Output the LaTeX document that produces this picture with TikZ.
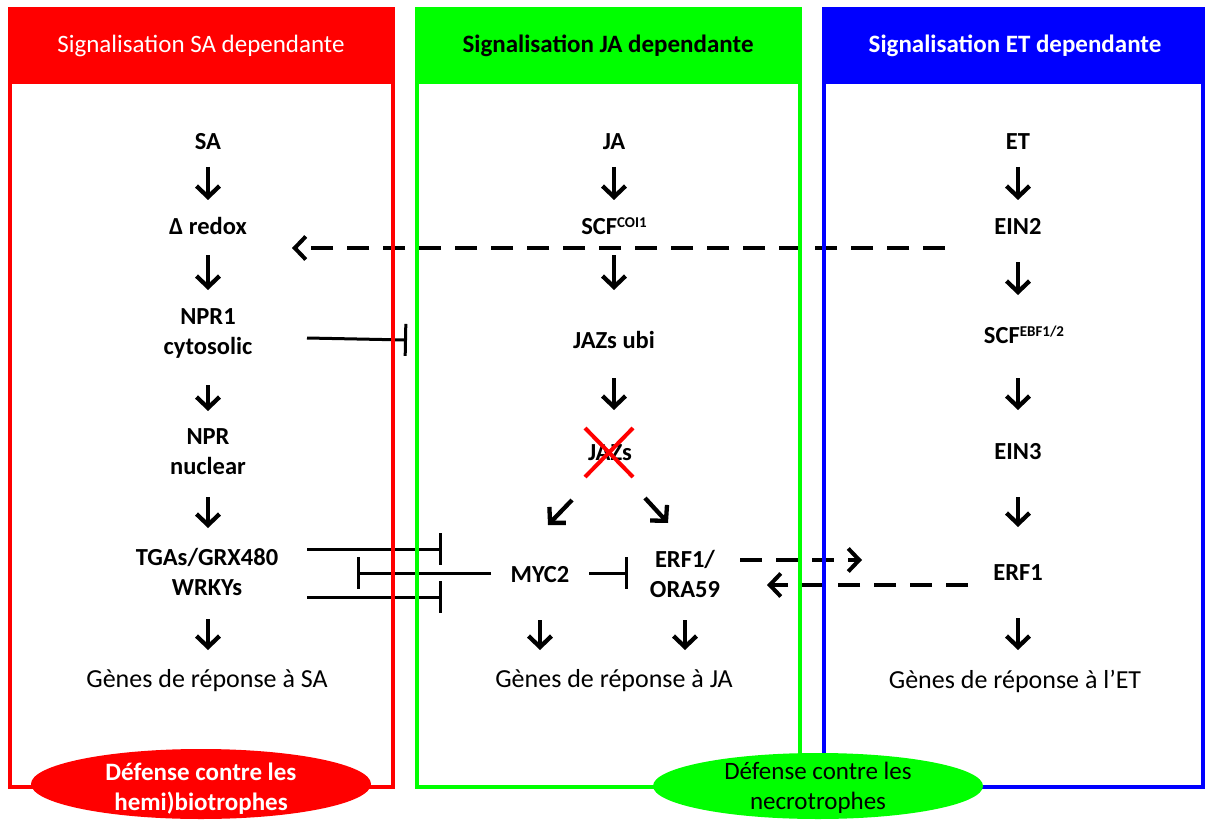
\documentclass[tikz,border=0pt]{standalone}
\usepackage{fontspec}
\setmainfont{Carlito}
\usetikzlibrary{arrows.meta,shapes.geometric}
\definecolor{rd}{RGB}{255,0,0}
\definecolor{gr}{RGB}{0,255,0}
\definecolor{bl}{RGB}{0,0,255}
\newcommand{\sps}[1]{\raisebox{6.5pt}{\fontsize{15}{15}\selectfont #1}}
\begin{document}
\begin{tikzpicture}[x=1pt,y=-1pt,
 txt/.style={font=\fontsize{24.5}{30}\selectfont\bfseries, align=center, inner sep=0pt},
 gtxt/.style={font=\fontsize{26}{30}\selectfont, align=center, inner sep=0pt},
 hdr/.style={font=\fontsize{25}{30}\selectfont, inner sep=0pt},
 down/.style={line width=4.3pt,-{Straight Barb[length=11pt,width=23pt]}},
 dsh/.style={line width=4pt, dash pattern=on 22pt off 14pt, -{Straight Barb[length=11pt,width=23pt]}},
 inh/.style={line width=3pt,-{Bar[width=32pt,line width=3pt]}},
 box/.style={line width=4pt},
]
\useasboundingbox (0,0) rectangle (1207,821);
% ---- SA column
\node[txt] (sa) at (208,142) {SA};
\node[txt] (redox) at (208,226) {Δ redox};
\node[txt] (npr1) at (208,333) {NPR1\\cytosolic};
\node[txt] (npr) at (208,452) {NPR\\nuclear};
\node[txt] (tgas) at (207,572) {TGAs/GRX480\\WRKYs};
\node[gtxt] (gsa) at (207,681) {Gènes de réponse à SA};
% ---- JA column
\node[txt] (ja) at (614,142) {JA};
\node[txt] (scfcoi) at (614,226) {SCF\sps{COI1}};
\node[txt] (jazub) at (614,340) {JAZs ubi};
\node[txt] (jazs) at (610,453) {JAZs};
\node[txt] (myc) at (540,575) {MYC2};
\node[txt] (erf) at (685,574) {ERF1/\\ORA59};
\node[gtxt] (gja) at (614,681) {Gènes de réponse à JA};
% ---- ET column
\node[txt] (et) at (1018,142) {ET};
\node[txt] (ein2) at (1018,226) {EIN2};
\node[txt] (scfebf) at (1024,335) {SCF\sps{EBF1/2}};
\node[txt] (ein3) at (1018,452) {EIN3};
\node[txt] (erfet) at (1018,573) {ERF1};
\node[gtxt] (get) at (1015,681) {Gènes de réponse à l’ET};
% ---- vertical arrows
\draw[down] ([yshift=-25pt]sa.center) -- ([yshift=26pt]redox.center);
\draw[down] ([yshift=-29pt]redox.center) -- ([yshift=43pt]npr1.center);
\draw[down] ([yshift=-52pt]npr1.center) -- ([yshift=41pt]npr.center);
\draw[down] ([yshift=-45pt]npr.center) -- ([yshift=44pt]tgas.center-|npr.center);
\draw[down] ([yshift=-47pt]tgas.center-|npr.center) -- ([yshift=31pt]gsa.center-|npr.center);
\draw[down] ([yshift=-25pt]ja.center) -- ([yshift=26pt]scfcoi.center);
\draw[down] ([yshift=-29pt]scfcoi.center) -- ([yshift=50pt]jazub.center);
\draw[down] ([yshift=-38pt]jazub.center) -- ([yshift=43pt]jazs.center-|jazub.center);
\draw[down] ([xshift=-38pt,yshift=-47pt]jazs.center) -- ([xshift=8pt,yshift=50pt]myc.center);
\draw[down] ([xshift=35pt,yshift=-45pt]jazs.center) -- ([xshift=-17pt,yshift=51pt]erf.center);
\draw[down] ([yshift=-45pt]myc.center) -- ([yshift=31pt]gja.center-|myc.center);
\draw[down] ([yshift=-46pt]erf.center) -- ([yshift=31pt]gja.center-|erf.center);
\draw[down] ([yshift=-25pt]et.center) -- ([yshift=26pt]ein2.center);
\draw[down] ([yshift=-36pt]ein2.center) -- ([yshift=40pt]scfebf.center-|ein2.center);
\draw[down] ([yshift=-43pt]scfebf.center-|ein2.center) -- ([yshift=42pt]ein3.center);
\draw[down] ([yshift=-45pt]ein3.center) -- ([yshift=46pt]erfet.center);
\draw[down] ([yshift=-45pt]erfet.center) -- ([yshift=31pt]get.center-|erfet.center);
% ---- red cross
\draw[rd, line width=4pt] ([xshift=-25pt,yshift=25pt]jazs.center) -- ([xshift=23pt,yshift=-24pt]jazs.center);
\draw[rd, line width=4pt] ([xshift=-25pt,yshift=-24pt]jazs.center) -- ([xshift=23pt,yshift=25pt]jazs.center);
% ---- dashed arrows
\draw[dsh] ([xshift=-73pt,yshift=-22pt]ein2.center) -- ([xshift=84pt,yshift=-22pt]redox.center);
\draw[dsh] ([xshift=55pt,yshift=14pt]erf.center) -- ([xshift=-156pt,yshift=13pt]erfet.center);
\draw[dsh] ([xshift=-50pt,yshift=-12pt]erfet.center) -- ([xshift=82pt,yshift=-11pt]erf.center);
% ---- inhibitions
\draw[inh] ([xshift=99pt,yshift=-5pt]npr1.center) -- ([xshift=199pt,yshift=-7pt]npr1.center);
\draw[inh] ([xshift=100pt,yshift=23pt]tgas.center) -- ([xshift=235pt,yshift=23pt]tgas.center);
\draw[inh] ([xshift=100pt,yshift=-25pt]tgas.center) -- ([xshift=235pt,yshift=-25pt]tgas.center);
\draw[inh] ([xshift=-49pt,yshift=2pt]myc.center) -- ([xshift=-183pt,yshift=2pt]myc.center);
\draw[inh] ([xshift=49pt,yshift=2pt]myc.center) -- ([xshift=-57pt,yshift=1pt]erf.center);
% ---- boxes
\fill[rd] (8,7) rectangle (395,84);
\draw[rd,box] (10,9) rectangle (393,787);
\fill[gr] (415,7) rectangle (802,84);
\draw[gr,box] (417,9) rectangle (800,787);
\fill[bl] (822,7) rectangle (1205,84);
\draw[bl,box] (824,9) rectangle (1203,787);
\node[hdr, text=white] (hsa) at (201,46) {Signalisation SA dependante};
\node[hdr, font=\fontsize{25}{30}\selectfont\bfseries] (hja) at (608,46) {Signalisation JA dependante};
\node[hdr, text=white, font=\fontsize{25}{30}\selectfont\bfseries] (het) at (1015,46) {Signalisation ET dependante};
% ---- ellipses
\node[ellipse, fill=rd, minimum width=340pt, minimum height=70pt, inner sep=0pt] (e1) at (201,784) {};
\node[txt, text=white, font=\fontsize{25}{30}\selectfont\bfseries] (e1t) at ([yshift=-5pt]e1.center) {Défense contre les\\hemi)biotrophes};
\node[ellipse, fill=gr, minimum width=330pt, minimum height=66pt, inner sep=0pt] (e2) at (818,786) {};
\node[txt, font=\fontsize{25}{30}\selectfont] (e2t) at ([yshift=-2pt]e2.center) {Défense contre les\\necrotrophes};
\end{tikzpicture}
\end{document}
